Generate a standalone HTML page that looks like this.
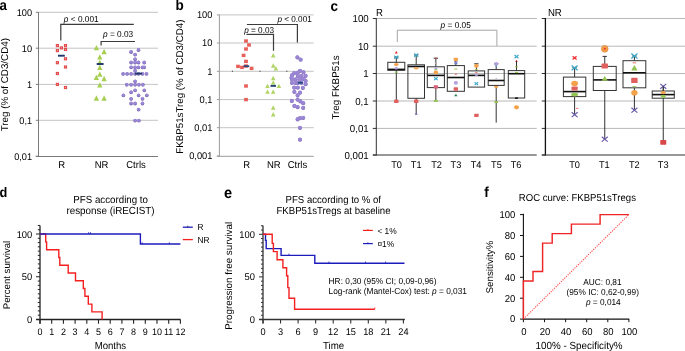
<!DOCTYPE html>
<html><head><meta charset="utf-8"><style>
html,body{margin:0;padding:0;background:#fff;width:685px;height:351px;overflow:hidden}
svg{display:block;filter:blur(0.4px);font-family:"Liberation Sans", sans-serif;text-rendering:geometricPrecision}
</style></head><body>
<svg xmlns="http://www.w3.org/2000/svg" width="685" height="351" viewBox="0 0 685 351">
<rect width="685" height="351" fill="#fff"/>
<text transform="translate(-0.60 10.40) scale(1 1.08)" font-size="13.3" text-anchor="start" font-weight="bold" fill="#000" >a</text>
<text transform="translate(175.50 10.30) scale(1 1.08)" font-size="13.5" text-anchor="start" font-weight="bold" fill="#000" >b</text>
<text transform="translate(330.60 10.50) scale(1 1.08)" font-size="13.5" text-anchor="start" font-weight="bold" fill="#000" >c</text>
<text transform="translate(-0.50 196.60) scale(1 1.08)" font-size="12.8" text-anchor="start" font-weight="bold" fill="#000" >d</text>
<text transform="translate(223.90 197.60) scale(1 1.08)" font-size="14.6" text-anchor="start" font-weight="bold" fill="#000" >e</text>
<text transform="translate(484.20 196.80) scale(1 1.08)" font-size="13.5" text-anchor="start" font-weight="bold" fill="#000" >f</text>
<line x1="39.00" y1="12.30" x2="158.00" y2="12.30" stroke="#c4c4c4" stroke-width="1" />
<line x1="35.80" y1="12.30" x2="38.50" y2="12.30" stroke="#7a7a7a" stroke-width="1" />
<line x1="39.00" y1="48.20" x2="158.00" y2="48.20" stroke="#c4c4c4" stroke-width="1" />
<line x1="35.80" y1="48.20" x2="38.50" y2="48.20" stroke="#7a7a7a" stroke-width="1" />
<line x1="39.00" y1="84.40" x2="158.00" y2="84.40" stroke="#c4c4c4" stroke-width="1" />
<line x1="35.80" y1="84.40" x2="38.50" y2="84.40" stroke="#7a7a7a" stroke-width="1" />
<line x1="39.00" y1="120.30" x2="158.00" y2="120.30" stroke="#c4c4c4" stroke-width="1" />
<line x1="35.80" y1="120.30" x2="38.50" y2="120.30" stroke="#7a7a7a" stroke-width="1" />
<line x1="35.80" y1="156.20" x2="38.50" y2="156.20" stroke="#7a7a7a" stroke-width="1" />
<line x1="38.50" y1="12.00" x2="38.50" y2="157.00" stroke="#7a7a7a" stroke-width="1" />
<line x1="35.80" y1="156.50" x2="158.00" y2="156.50" stroke="#7a7a7a" stroke-width="1" />
<text transform="translate(32.10 15.70) scale(1 1.05)" font-size="9.2" text-anchor="end" font-weight="normal" fill="#000" >100</text>
<text transform="translate(32.10 51.60) scale(1 1.05)" font-size="9.2" text-anchor="end" font-weight="normal" fill="#000" >10</text>
<text transform="translate(32.10 87.80) scale(1 1.05)" font-size="9.2" text-anchor="end" font-weight="normal" fill="#000" >1</text>
<text transform="translate(32.10 123.70) scale(1 1.05)" font-size="9.2" text-anchor="end" font-weight="normal" fill="#000" >0,1</text>
<text transform="translate(32.10 159.60) scale(1 1.05)" font-size="9.2" text-anchor="end" font-weight="normal" fill="#000" >0,01</text>
<text transform="translate(61.70 168.20) scale(1 1.05)" font-size="9.5" text-anchor="middle" font-weight="normal" fill="#000" >R</text>
<text transform="translate(101.50 168.20) scale(1 1.05)" font-size="9.5" text-anchor="middle" font-weight="normal" fill="#000" >NR</text>
<text transform="translate(136.00 168.20) scale(1 1.05)" font-size="9.5" text-anchor="middle" font-weight="normal" fill="#000" >Ctrls</text>
<text transform="translate(7.70 84.70) rotate(-90)" font-size="9.8" text-anchor="middle" font-weight="normal" fill="#000" >Treg (% of CD3/CD4)</text>
<line x1="60.80" y1="24.40" x2="133.80" y2="24.40" stroke="#3c3c3c" stroke-width="1.2" />
<line x1="60.80" y1="23.80" x2="60.80" y2="40.60" stroke="#3c3c3c" stroke-width="1.2" />
<text transform="translate(63.80 21.70) scale(1 1.05)" font-size="8.3" text-anchor="start" font-weight="normal" fill="#000" ><tspan font-style="italic">p</tspan> &lt; 0.001</text>
<line x1="101.10" y1="41.50" x2="135.00" y2="41.50" stroke="#3c3c3c" stroke-width="1.2" />
<line x1="101.10" y1="40.90" x2="101.10" y2="45.60" stroke="#3c3c3c" stroke-width="1.2" />
<text transform="translate(103.00 37.10) scale(1 1.05)" font-size="8.3" text-anchor="start" font-weight="normal" fill="#000" ><tspan font-style="italic">p</tspan> = 0.03</text>
<rect x="55.80" y="44.00" width="3.20" height="3.20" fill="#e24b4b" stroke="none" stroke-width="1" />
<rect x="56.90" y="45.10" width="1.00" height="1.00" fill="#f4a6a6" stroke="none" stroke-width="1" />
<rect x="59.80" y="46.30" width="3.20" height="3.20" fill="#e24b4b" stroke="none" stroke-width="1" />
<rect x="60.90" y="47.40" width="1.00" height="1.00" fill="#f4a6a6" stroke="none" stroke-width="1" />
<rect x="63.90" y="44.00" width="3.20" height="3.20" fill="#e24b4b" stroke="none" stroke-width="1" />
<rect x="65.00" y="45.10" width="1.00" height="1.00" fill="#f4a6a6" stroke="none" stroke-width="1" />
<rect x="55.80" y="49.00" width="3.20" height="3.20" fill="#e24b4b" stroke="none" stroke-width="1" />
<rect x="56.90" y="50.10" width="1.00" height="1.00" fill="#f4a6a6" stroke="none" stroke-width="1" />
<rect x="63.90" y="47.80" width="3.20" height="3.20" fill="#e24b4b" stroke="none" stroke-width="1" />
<rect x="65.00" y="48.90" width="1.00" height="1.00" fill="#f4a6a6" stroke="none" stroke-width="1" />
<rect x="63.90" y="57.20" width="3.20" height="3.20" fill="#e24b4b" stroke="none" stroke-width="1" />
<rect x="65.00" y="58.30" width="1.00" height="1.00" fill="#f4a6a6" stroke="none" stroke-width="1" />
<rect x="55.80" y="61.10" width="3.20" height="3.20" fill="#e24b4b" stroke="none" stroke-width="1" />
<rect x="56.90" y="62.20" width="1.00" height="1.00" fill="#f4a6a6" stroke="none" stroke-width="1" />
<rect x="63.90" y="65.40" width="3.20" height="3.20" fill="#e24b4b" stroke="none" stroke-width="1" />
<rect x="65.00" y="66.50" width="1.00" height="1.00" fill="#f4a6a6" stroke="none" stroke-width="1" />
<rect x="55.80" y="71.90" width="3.20" height="3.20" fill="#e24b4b" stroke="none" stroke-width="1" />
<rect x="56.90" y="73.00" width="1.00" height="1.00" fill="#f4a6a6" stroke="none" stroke-width="1" />
<rect x="55.80" y="82.80" width="3.20" height="3.20" fill="#e24b4b" stroke="none" stroke-width="1" />
<rect x="56.90" y="83.90" width="1.00" height="1.00" fill="#f4a6a6" stroke="none" stroke-width="1" />
<rect x="63.90" y="85.90" width="3.20" height="3.20" fill="#e24b4b" stroke="none" stroke-width="1" />
<rect x="65.00" y="87.00" width="1.00" height="1.00" fill="#f4a6a6" stroke="none" stroke-width="1" />
<polygon points="93.75,50.35 99.05,50.35 96.40,45.05" fill="#a6cf52" />
<polygon points="101.45,54.15 106.75,54.15 104.10,48.85" fill="#a6cf52" />
<polygon points="97.15,59.45 102.45,59.45 99.80,54.15" fill="#a6cf52" />
<polygon points="97.15,64.85 102.45,64.85 99.80,59.55" fill="#a6cf52" />
<polygon points="97.15,70.05 102.45,70.05 99.80,64.75" fill="#a6cf52" />
<polygon points="97.15,76.85 102.45,76.85 99.80,71.55" fill="#a6cf52" />
<polygon points="93.75,79.95 99.05,79.95 96.40,74.65" fill="#a6cf52" />
<polygon points="101.45,81.15 106.75,81.15 104.10,75.85" fill="#a6cf52" />
<polygon points="97.15,87.45 102.45,87.45 99.80,82.15" fill="#a6cf52" />
<polygon points="93.75,100.65 99.05,100.65 96.40,95.35" fill="#a6cf52" />
<polygon points="101.45,100.65 106.75,100.65 104.10,95.35" fill="#a6cf52" />
<circle cx="131.10" cy="52.15" r="1.80" fill="#6f5da6" stroke="none" stroke-width="0.5" />
<circle cx="138.50" cy="50.15" r="1.80" fill="#6f5da6" stroke="none" stroke-width="0.5" />
<circle cx="135.10" cy="54.75" r="1.80" fill="#6f5da6" stroke="none" stroke-width="0.5" />
<circle cx="135.10" cy="59.45" r="1.80" fill="#6f5da6" stroke="none" stroke-width="0.5" />
<circle cx="131.10" cy="62.65" r="1.80" fill="#6f5da6" stroke="none" stroke-width="0.5" />
<circle cx="135.10" cy="62.65" r="1.80" fill="#6f5da6" stroke="none" stroke-width="0.5" />
<circle cx="138.50" cy="62.65" r="1.80" fill="#6f5da6" stroke="none" stroke-width="0.5" />
<circle cx="144.20" cy="62.65" r="1.80" fill="#6f5da6" stroke="none" stroke-width="0.5" />
<circle cx="131.10" cy="67.55" r="1.80" fill="#6f5da6" stroke="none" stroke-width="0.5" />
<circle cx="135.10" cy="67.55" r="1.80" fill="#6f5da6" stroke="none" stroke-width="0.5" />
<circle cx="138.50" cy="67.55" r="1.80" fill="#6f5da6" stroke="none" stroke-width="0.5" />
<circle cx="142.50" cy="67.55" r="1.80" fill="#6f5da6" stroke="none" stroke-width="0.5" />
<circle cx="144.20" cy="67.55" r="1.80" fill="#6f5da6" stroke="none" stroke-width="0.5" />
<circle cx="135.10" cy="70.85" r="1.80" fill="#6f5da6" stroke="none" stroke-width="0.5" />
<circle cx="123.10" cy="74.05" r="1.80" fill="#6f5da6" stroke="none" stroke-width="0.5" />
<circle cx="127.10" cy="74.05" r="1.80" fill="#6f5da6" stroke="none" stroke-width="0.5" />
<circle cx="131.10" cy="74.05" r="1.80" fill="#6f5da6" stroke="none" stroke-width="0.5" />
<circle cx="135.10" cy="74.05" r="1.80" fill="#6f5da6" stroke="none" stroke-width="0.5" />
<circle cx="138.50" cy="74.05" r="1.80" fill="#6f5da6" stroke="none" stroke-width="0.5" />
<circle cx="142.50" cy="74.05" r="1.80" fill="#6f5da6" stroke="none" stroke-width="0.5" />
<circle cx="146.50" cy="74.05" r="1.80" fill="#6f5da6" stroke="none" stroke-width="0.5" />
<circle cx="135.10" cy="81.55" r="1.80" fill="#6f5da6" stroke="none" stroke-width="0.5" />
<circle cx="126.80" cy="84.85" r="1.80" fill="#6f5da6" stroke="none" stroke-width="0.5" />
<circle cx="131.10" cy="84.85" r="1.80" fill="#6f5da6" stroke="none" stroke-width="0.5" />
<circle cx="135.10" cy="84.85" r="1.80" fill="#6f5da6" stroke="none" stroke-width="0.5" />
<circle cx="138.90" cy="84.85" r="1.80" fill="#6f5da6" stroke="none" stroke-width="0.5" />
<circle cx="142.90" cy="84.85" r="1.80" fill="#6f5da6" stroke="none" stroke-width="0.5" />
<circle cx="135.10" cy="90.55" r="1.80" fill="#6f5da6" stroke="none" stroke-width="0.5" />
<circle cx="131.10" cy="92.45" r="1.80" fill="#6f5da6" stroke="none" stroke-width="0.5" />
<circle cx="144.30" cy="90.55" r="1.80" fill="#6f5da6" stroke="none" stroke-width="0.5" />
<circle cx="123.40" cy="95.55" r="1.80" fill="#6f5da6" stroke="none" stroke-width="0.5" />
<circle cx="138.60" cy="95.55" r="1.80" fill="#6f5da6" stroke="none" stroke-width="0.5" />
<circle cx="146.80" cy="95.55" r="1.80" fill="#6f5da6" stroke="none" stroke-width="0.5" />
<circle cx="131.10" cy="99.05" r="1.80" fill="#6f5da6" stroke="none" stroke-width="0.5" />
<circle cx="142.50" cy="99.05" r="1.80" fill="#6f5da6" stroke="none" stroke-width="0.5" />
<circle cx="131.10" cy="103.65" r="1.80" fill="#6f5da6" stroke="none" stroke-width="0.5" />
<circle cx="135.10" cy="103.65" r="1.80" fill="#6f5da6" stroke="none" stroke-width="0.5" />
<circle cx="142.50" cy="103.65" r="1.80" fill="#6f5da6" stroke="none" stroke-width="0.5" />
<circle cx="138.60" cy="109.75" r="1.80" fill="#6f5da6" stroke="none" stroke-width="0.5" />
<circle cx="135.10" cy="120.75" r="1.80" fill="#6f5da6" stroke="none" stroke-width="0.5" />
<circle cx="138.90" cy="120.75" r="1.80" fill="#6f5da6" stroke="none" stroke-width="0.5" />
<circle cx="131.10" cy="51.70" r="1.65" fill="#9a86d4" stroke="none" stroke-width="0.5" />
<circle cx="138.50" cy="49.70" r="1.65" fill="#9a86d4" stroke="none" stroke-width="0.5" />
<circle cx="135.10" cy="54.30" r="1.65" fill="#9a86d4" stroke="none" stroke-width="0.5" />
<circle cx="135.10" cy="59.00" r="1.65" fill="#9a86d4" stroke="none" stroke-width="0.5" />
<circle cx="131.10" cy="62.20" r="1.65" fill="#9a86d4" stroke="none" stroke-width="0.5" />
<circle cx="135.10" cy="62.20" r="1.65" fill="#9a86d4" stroke="none" stroke-width="0.5" />
<circle cx="138.50" cy="62.20" r="1.65" fill="#9a86d4" stroke="none" stroke-width="0.5" />
<circle cx="144.20" cy="62.20" r="1.65" fill="#9a86d4" stroke="none" stroke-width="0.5" />
<circle cx="131.10" cy="67.10" r="1.65" fill="#9a86d4" stroke="none" stroke-width="0.5" />
<circle cx="135.10" cy="67.10" r="1.65" fill="#9a86d4" stroke="none" stroke-width="0.5" />
<circle cx="138.50" cy="67.10" r="1.65" fill="#9a86d4" stroke="none" stroke-width="0.5" />
<circle cx="142.50" cy="67.10" r="1.65" fill="#9a86d4" stroke="none" stroke-width="0.5" />
<circle cx="144.20" cy="67.10" r="1.65" fill="#9a86d4" stroke="none" stroke-width="0.5" />
<circle cx="135.10" cy="70.40" r="1.65" fill="#9a86d4" stroke="none" stroke-width="0.5" />
<circle cx="123.10" cy="73.60" r="1.65" fill="#9a86d4" stroke="none" stroke-width="0.5" />
<circle cx="127.10" cy="73.60" r="1.65" fill="#9a86d4" stroke="none" stroke-width="0.5" />
<circle cx="131.10" cy="73.60" r="1.65" fill="#9a86d4" stroke="none" stroke-width="0.5" />
<circle cx="135.10" cy="73.60" r="1.65" fill="#9a86d4" stroke="none" stroke-width="0.5" />
<circle cx="138.50" cy="73.60" r="1.65" fill="#9a86d4" stroke="none" stroke-width="0.5" />
<circle cx="142.50" cy="73.60" r="1.65" fill="#9a86d4" stroke="none" stroke-width="0.5" />
<circle cx="146.50" cy="73.60" r="1.65" fill="#9a86d4" stroke="none" stroke-width="0.5" />
<circle cx="135.10" cy="81.10" r="1.65" fill="#9a86d4" stroke="none" stroke-width="0.5" />
<circle cx="126.80" cy="84.40" r="1.65" fill="#9a86d4" stroke="none" stroke-width="0.5" />
<circle cx="131.10" cy="84.40" r="1.65" fill="#9a86d4" stroke="none" stroke-width="0.5" />
<circle cx="135.10" cy="84.40" r="1.65" fill="#9a86d4" stroke="none" stroke-width="0.5" />
<circle cx="138.90" cy="84.40" r="1.65" fill="#9a86d4" stroke="none" stroke-width="0.5" />
<circle cx="142.90" cy="84.40" r="1.65" fill="#9a86d4" stroke="none" stroke-width="0.5" />
<circle cx="135.10" cy="90.10" r="1.65" fill="#9a86d4" stroke="none" stroke-width="0.5" />
<circle cx="131.10" cy="92.00" r="1.65" fill="#9a86d4" stroke="none" stroke-width="0.5" />
<circle cx="144.30" cy="90.10" r="1.65" fill="#9a86d4" stroke="none" stroke-width="0.5" />
<circle cx="123.40" cy="95.10" r="1.65" fill="#9a86d4" stroke="none" stroke-width="0.5" />
<circle cx="138.60" cy="95.10" r="1.65" fill="#9a86d4" stroke="none" stroke-width="0.5" />
<circle cx="146.80" cy="95.10" r="1.65" fill="#9a86d4" stroke="none" stroke-width="0.5" />
<circle cx="131.10" cy="98.60" r="1.65" fill="#9a86d4" stroke="none" stroke-width="0.5" />
<circle cx="142.50" cy="98.60" r="1.65" fill="#9a86d4" stroke="none" stroke-width="0.5" />
<circle cx="131.10" cy="103.20" r="1.65" fill="#9a86d4" stroke="none" stroke-width="0.5" />
<circle cx="135.10" cy="103.20" r="1.65" fill="#9a86d4" stroke="none" stroke-width="0.5" />
<circle cx="142.50" cy="103.20" r="1.65" fill="#9a86d4" stroke="none" stroke-width="0.5" />
<circle cx="138.60" cy="109.30" r="1.65" fill="#9a86d4" stroke="none" stroke-width="0.5" />
<circle cx="135.10" cy="120.30" r="1.65" fill="#9a86d4" stroke="none" stroke-width="0.5" />
<circle cx="138.90" cy="120.30" r="1.65" fill="#9a86d4" stroke="none" stroke-width="0.5" />
<line x1="58.00" y1="55.70" x2="64.80" y2="55.70" stroke="#1c3768" stroke-width="1.9" />
<line x1="96.70" y1="64.00" x2="103.60" y2="64.00" stroke="#1c3768" stroke-width="1.9" />
<line x1="135.00" y1="73.60" x2="142.00" y2="73.60" stroke="#1c3768" stroke-width="1.9" />
<line x1="220.00" y1="14.90" x2="313.70" y2="14.90" stroke="#c4c4c4" stroke-width="1" />
<line x1="216.90" y1="14.90" x2="219.40" y2="14.90" stroke="#9c9c9c" stroke-width="1" />
<line x1="220.00" y1="43.00" x2="313.70" y2="43.00" stroke="#c4c4c4" stroke-width="1" />
<line x1="216.90" y1="43.00" x2="219.40" y2="43.00" stroke="#9c9c9c" stroke-width="1" />
<line x1="220.00" y1="71.30" x2="313.70" y2="71.30" stroke="#c4c4c4" stroke-width="1" />
<line x1="216.90" y1="71.30" x2="219.40" y2="71.30" stroke="#9c9c9c" stroke-width="1" />
<line x1="220.00" y1="99.60" x2="313.70" y2="99.60" stroke="#c4c4c4" stroke-width="1" />
<line x1="216.90" y1="99.60" x2="219.40" y2="99.60" stroke="#9c9c9c" stroke-width="1" />
<line x1="220.00" y1="127.70" x2="313.70" y2="127.70" stroke="#c4c4c4" stroke-width="1" />
<line x1="216.90" y1="127.70" x2="219.40" y2="127.70" stroke="#9c9c9c" stroke-width="1" />
<line x1="216.90" y1="156.00" x2="219.40" y2="156.00" stroke="#9c9c9c" stroke-width="1" />
<line x1="219.40" y1="14.50" x2="219.40" y2="156.80" stroke="#9c9c9c" stroke-width="1" />
<line x1="216.90" y1="156.30" x2="313.70" y2="156.30" stroke="#9c9c9c" stroke-width="1" />
<text transform="translate(212.40 18.10) scale(1 1.05)" font-size="9.3" text-anchor="end" font-weight="normal" fill="#000" >100</text>
<text transform="translate(212.40 46.20) scale(1 1.05)" font-size="9.3" text-anchor="end" font-weight="normal" fill="#000" >10</text>
<text transform="translate(212.40 74.50) scale(1 1.05)" font-size="9.3" text-anchor="end" font-weight="normal" fill="#000" >1</text>
<text transform="translate(212.40 102.80) scale(1 1.05)" font-size="9.3" text-anchor="end" font-weight="normal" fill="#000" >0,1</text>
<text transform="translate(212.40 130.90) scale(1 1.05)" font-size="9.3" text-anchor="end" font-weight="normal" fill="#000" >0,01</text>
<text transform="translate(212.40 159.20) scale(1 1.05)" font-size="9.3" text-anchor="end" font-weight="normal" fill="#000" >0,001</text>
<text transform="translate(246.60 168.20) scale(1 1.05)" font-size="9.5" text-anchor="middle" font-weight="normal" fill="#000" >R</text>
<text transform="translate(273.80 168.20) scale(1 1.05)" font-size="9.5" text-anchor="middle" font-weight="normal" fill="#000" >NR</text>
<text transform="translate(297.40 168.20) scale(1 1.05)" font-size="9.5" text-anchor="middle" font-weight="normal" fill="#000" >Ctrls</text>
<text transform="translate(182.90 86.70) rotate(-90)" font-size="9.77" text-anchor="middle" font-weight="normal" fill="#000" >FKBP51sTreg (% of CD3/CD4)</text>
<line x1="232.40" y1="70.60" x2="232.40" y2="72.00" stroke="#3a3a3a" stroke-width="0.8" />
<line x1="260.00" y1="70.60" x2="260.00" y2="72.00" stroke="#3a3a3a" stroke-width="0.8" />
<line x1="286.80" y1="70.60" x2="286.80" y2="72.00" stroke="#3a3a3a" stroke-width="0.8" />
<line x1="246.90" y1="24.50" x2="297.40" y2="24.50" stroke="#3c3c3c" stroke-width="1.2" />
<line x1="297.40" y1="23.90" x2="297.40" y2="42.60" stroke="#3c3c3c" stroke-width="1.2" />
<text transform="translate(277.40 21.60) scale(1 1.05)" font-size="8.2" text-anchor="start" font-weight="normal" fill="#000" ><tspan font-style="italic">p</tspan> &lt; 0.001</text>
<line x1="246.40" y1="34.40" x2="273.50" y2="34.40" stroke="#3c3c3c" stroke-width="1.2" />
<line x1="273.50" y1="33.80" x2="273.50" y2="50.80" stroke="#3c3c3c" stroke-width="1.2" />
<text transform="translate(244.20 32.60) scale(1 1.05)" font-size="8.2" text-anchor="start" font-weight="normal" fill="#000" ><tspan font-style="italic">p</tspan> = 0.03</text>
<rect x="244.10" y="39.30" width="3.80" height="3.40" fill="#e8605a" stroke="none" stroke-width="1" />
<rect x="247.10" y="43.30" width="3.80" height="3.40" fill="#e8605a" stroke="none" stroke-width="1" />
<rect x="244.10" y="47.30" width="3.80" height="3.40" fill="#e8605a" stroke="none" stroke-width="1" />
<rect x="241.70" y="53.70" width="3.80" height="3.40" fill="#e8605a" stroke="none" stroke-width="1" />
<rect x="244.10" y="59.70" width="3.80" height="3.40" fill="#e8605a" stroke="none" stroke-width="1" />
<rect x="236.10" y="64.70" width="3.80" height="3.40" fill="#e8605a" stroke="none" stroke-width="1" />
<rect x="240.10" y="65.70" width="3.80" height="3.40" fill="#e8605a" stroke="none" stroke-width="1" />
<rect x="244.10" y="64.30" width="3.80" height="3.40" fill="#e8605a" stroke="none" stroke-width="1" />
<rect x="249.70" y="66.70" width="3.80" height="3.40" fill="#e8605a" stroke="none" stroke-width="1" />
<rect x="244.10" y="84.30" width="3.80" height="3.40" fill="#e8605a" stroke="none" stroke-width="1" />
<rect x="244.10" y="97.90" width="3.80" height="3.40" fill="#e8605a" stroke="none" stroke-width="1" />
<line x1="243.50" y1="66.20" x2="249.20" y2="66.20" stroke="#28467e" stroke-width="1.9" />
<polygon points="270.90,57.40 275.50,57.40 273.20,53.00" fill="#b0d466" />
<polygon points="270.90,67.70 275.50,67.70 273.20,63.30" fill="#b0d466" />
<polygon points="273.60,70.40 278.20,70.40 275.90,66.00" fill="#b0d466" />
<polygon points="270.90,80.20 275.50,80.20 273.20,75.80" fill="#b0d466" />
<polygon points="270.90,84.70 275.50,84.70 273.20,80.30" fill="#b0d466" />
<polygon points="265.20,88.10 269.80,88.10 267.50,83.70" fill="#b0d466" />
<polygon points="276.60,88.10 281.20,88.10 278.90,83.70" fill="#b0d466" />
<polygon points="265.20,93.80 269.80,93.80 267.50,89.40" fill="#b0d466" />
<polygon points="270.90,93.80 275.50,93.80 273.20,89.40" fill="#b0d466" />
<polygon points="270.90,109.70 275.50,109.70 273.20,105.30" fill="#b0d466" />
<polygon points="270.90,116.50 275.50,116.50 273.20,112.10" fill="#b0d466" />
<line x1="270.50" y1="85.90" x2="276.00" y2="85.90" stroke="#28467e" stroke-width="1.9" />
<circle cx="297.40" cy="57.50" r="2.00" fill="#7a68b0" stroke="none" stroke-width="0.5" />
<circle cx="300.60" cy="59.70" r="2.00" fill="#7a68b0" stroke="none" stroke-width="0.5" />
<circle cx="294.20" cy="73.20" r="2.00" fill="#7a68b0" stroke="none" stroke-width="0.5" />
<circle cx="300.00" cy="71.00" r="2.00" fill="#7a68b0" stroke="none" stroke-width="0.5" />
<circle cx="303.50" cy="72.40" r="2.00" fill="#7a68b0" stroke="none" stroke-width="0.5" />
<circle cx="292.00" cy="75.40" r="2.00" fill="#7a68b0" stroke="none" stroke-width="0.5" />
<circle cx="297.80" cy="76.00" r="2.00" fill="#7a68b0" stroke="none" stroke-width="0.5" />
<circle cx="301.40" cy="76.00" r="2.00" fill="#7a68b0" stroke="none" stroke-width="0.5" />
<circle cx="305.60" cy="76.00" r="2.00" fill="#7a68b0" stroke="none" stroke-width="0.5" />
<circle cx="292.00" cy="79.60" r="2.00" fill="#7a68b0" stroke="none" stroke-width="0.5" />
<circle cx="295.70" cy="79.60" r="2.00" fill="#7a68b0" stroke="none" stroke-width="0.5" />
<circle cx="300.00" cy="79.60" r="2.00" fill="#7a68b0" stroke="none" stroke-width="0.5" />
<circle cx="303.50" cy="78.90" r="2.00" fill="#7a68b0" stroke="none" stroke-width="0.5" />
<circle cx="292.00" cy="83.10" r="2.00" fill="#7a68b0" stroke="none" stroke-width="0.5" />
<circle cx="295.70" cy="83.10" r="2.00" fill="#7a68b0" stroke="none" stroke-width="0.5" />
<circle cx="305.60" cy="81.00" r="2.00" fill="#7a68b0" stroke="none" stroke-width="0.5" />
<circle cx="305.60" cy="84.30" r="2.00" fill="#7a68b0" stroke="none" stroke-width="0.5" />
<circle cx="297.80" cy="83.10" r="2.00" fill="#7a68b0" stroke="none" stroke-width="0.5" />
<circle cx="301.40" cy="83.10" r="2.00" fill="#7a68b0" stroke="none" stroke-width="0.5" />
<circle cx="294.20" cy="87.70" r="2.00" fill="#7a68b0" stroke="none" stroke-width="0.5" />
<circle cx="297.80" cy="87.70" r="2.00" fill="#7a68b0" stroke="none" stroke-width="0.5" />
<circle cx="302.80" cy="88.10" r="2.00" fill="#7a68b0" stroke="none" stroke-width="0.5" />
<circle cx="294.40" cy="92.00" r="2.00" fill="#7a68b0" stroke="none" stroke-width="0.5" />
<circle cx="300.00" cy="92.80" r="2.00" fill="#7a68b0" stroke="none" stroke-width="0.5" />
<circle cx="297.60" cy="95.40" r="2.00" fill="#7a68b0" stroke="none" stroke-width="0.5" />
<circle cx="291.80" cy="101.10" r="2.00" fill="#7a68b0" stroke="none" stroke-width="0.5" />
<circle cx="297.60" cy="99.80" r="2.00" fill="#7a68b0" stroke="none" stroke-width="0.5" />
<circle cx="300.40" cy="101.40" r="2.00" fill="#7a68b0" stroke="none" stroke-width="0.5" />
<circle cx="303.20" cy="103.30" r="2.00" fill="#7a68b0" stroke="none" stroke-width="0.5" />
<circle cx="294.40" cy="106.10" r="2.00" fill="#7a68b0" stroke="none" stroke-width="0.5" />
<circle cx="297.60" cy="107.20" r="2.00" fill="#7a68b0" stroke="none" stroke-width="0.5" />
<circle cx="303.20" cy="108.00" r="2.00" fill="#7a68b0" stroke="none" stroke-width="0.5" />
<circle cx="297.60" cy="119.40" r="2.00" fill="#7a68b0" stroke="none" stroke-width="0.5" />
<circle cx="300.00" cy="118.30" r="2.00" fill="#7a68b0" stroke="none" stroke-width="0.5" />
<circle cx="303.20" cy="118.00" r="2.00" fill="#7a68b0" stroke="none" stroke-width="0.5" />
<circle cx="300.00" cy="128.00" r="2.00" fill="#7a68b0" stroke="none" stroke-width="0.5" />
<circle cx="300.00" cy="139.80" r="2.00" fill="#7a68b0" stroke="none" stroke-width="0.5" />
<circle cx="297.80" cy="72.90" r="2.00" fill="#7a68b0" stroke="none" stroke-width="0.5" />
<circle cx="291.50" cy="77.90" r="2.00" fill="#7a68b0" stroke="none" stroke-width="0.5" />
<circle cx="297.40" cy="57.10" r="1.90" fill="#9a86d4" stroke="none" stroke-width="0.5" />
<circle cx="300.60" cy="59.30" r="1.90" fill="#9a86d4" stroke="none" stroke-width="0.5" />
<circle cx="294.20" cy="72.80" r="1.90" fill="#9a86d4" stroke="none" stroke-width="0.5" />
<circle cx="300.00" cy="70.60" r="1.90" fill="#9a86d4" stroke="none" stroke-width="0.5" />
<circle cx="303.50" cy="72.00" r="1.90" fill="#9a86d4" stroke="none" stroke-width="0.5" />
<circle cx="292.00" cy="75.00" r="1.90" fill="#9a86d4" stroke="none" stroke-width="0.5" />
<circle cx="297.80" cy="75.60" r="1.90" fill="#9a86d4" stroke="none" stroke-width="0.5" />
<circle cx="301.40" cy="75.60" r="1.90" fill="#9a86d4" stroke="none" stroke-width="0.5" />
<circle cx="305.60" cy="75.60" r="1.90" fill="#9a86d4" stroke="none" stroke-width="0.5" />
<circle cx="292.00" cy="79.20" r="1.90" fill="#9a86d4" stroke="none" stroke-width="0.5" />
<circle cx="295.70" cy="79.20" r="1.90" fill="#9a86d4" stroke="none" stroke-width="0.5" />
<circle cx="300.00" cy="79.20" r="1.90" fill="#9a86d4" stroke="none" stroke-width="0.5" />
<circle cx="303.50" cy="78.50" r="1.90" fill="#9a86d4" stroke="none" stroke-width="0.5" />
<circle cx="292.00" cy="82.70" r="1.90" fill="#9a86d4" stroke="none" stroke-width="0.5" />
<circle cx="295.70" cy="82.70" r="1.90" fill="#9a86d4" stroke="none" stroke-width="0.5" />
<circle cx="305.60" cy="80.60" r="1.90" fill="#9a86d4" stroke="none" stroke-width="0.5" />
<circle cx="305.60" cy="83.90" r="1.90" fill="#9a86d4" stroke="none" stroke-width="0.5" />
<circle cx="297.80" cy="82.70" r="1.90" fill="#9a86d4" stroke="none" stroke-width="0.5" />
<circle cx="301.40" cy="82.70" r="1.90" fill="#9a86d4" stroke="none" stroke-width="0.5" />
<circle cx="294.20" cy="87.30" r="1.90" fill="#9a86d4" stroke="none" stroke-width="0.5" />
<circle cx="297.80" cy="87.30" r="1.90" fill="#9a86d4" stroke="none" stroke-width="0.5" />
<circle cx="302.80" cy="87.70" r="1.90" fill="#9a86d4" stroke="none" stroke-width="0.5" />
<circle cx="294.40" cy="91.60" r="1.90" fill="#9a86d4" stroke="none" stroke-width="0.5" />
<circle cx="300.00" cy="92.40" r="1.90" fill="#9a86d4" stroke="none" stroke-width="0.5" />
<circle cx="297.60" cy="95.00" r="1.90" fill="#9a86d4" stroke="none" stroke-width="0.5" />
<circle cx="291.80" cy="100.70" r="1.90" fill="#9a86d4" stroke="none" stroke-width="0.5" />
<circle cx="297.60" cy="99.40" r="1.90" fill="#9a86d4" stroke="none" stroke-width="0.5" />
<circle cx="300.40" cy="101.00" r="1.90" fill="#9a86d4" stroke="none" stroke-width="0.5" />
<circle cx="303.20" cy="102.90" r="1.90" fill="#9a86d4" stroke="none" stroke-width="0.5" />
<circle cx="294.40" cy="105.70" r="1.90" fill="#9a86d4" stroke="none" stroke-width="0.5" />
<circle cx="297.60" cy="106.80" r="1.90" fill="#9a86d4" stroke="none" stroke-width="0.5" />
<circle cx="303.20" cy="107.60" r="1.90" fill="#9a86d4" stroke="none" stroke-width="0.5" />
<circle cx="297.60" cy="119.00" r="1.90" fill="#9a86d4" stroke="none" stroke-width="0.5" />
<circle cx="300.00" cy="117.90" r="1.90" fill="#9a86d4" stroke="none" stroke-width="0.5" />
<circle cx="303.20" cy="117.60" r="1.90" fill="#9a86d4" stroke="none" stroke-width="0.5" />
<circle cx="300.00" cy="127.60" r="1.90" fill="#9a86d4" stroke="none" stroke-width="0.5" />
<circle cx="300.00" cy="139.40" r="1.90" fill="#9a86d4" stroke="none" stroke-width="0.5" />
<circle cx="297.80" cy="72.50" r="1.90" fill="#9a86d4" stroke="none" stroke-width="0.5" />
<circle cx="291.50" cy="77.50" r="1.90" fill="#9a86d4" stroke="none" stroke-width="0.5" />
<line x1="297.80" y1="82.70" x2="302.80" y2="82.70" stroke="#28467e" stroke-width="1.9" />
<line x1="376.30" y1="18.50" x2="536.70" y2="18.50" stroke="#b8b8b8" stroke-width="1" />
<line x1="545.60" y1="18.50" x2="685.00" y2="18.50" stroke="#b8b8b8" stroke-width="1" />
<line x1="372.80" y1="18.50" x2="376.30" y2="18.50" stroke="#303030" stroke-width="1" />
<line x1="541.80" y1="18.50" x2="545.60" y2="18.50" stroke="#303030" stroke-width="1" />
<line x1="376.30" y1="46.20" x2="536.70" y2="46.20" stroke="#b8b8b8" stroke-width="1" />
<line x1="545.60" y1="46.20" x2="685.00" y2="46.20" stroke="#b8b8b8" stroke-width="1" />
<line x1="372.80" y1="46.20" x2="376.30" y2="46.20" stroke="#303030" stroke-width="1" />
<line x1="541.80" y1="46.20" x2="545.60" y2="46.20" stroke="#303030" stroke-width="1" />
<line x1="376.30" y1="73.50" x2="536.70" y2="73.50" stroke="#b8b8b8" stroke-width="1" />
<line x1="545.60" y1="73.50" x2="685.00" y2="73.50" stroke="#b8b8b8" stroke-width="1" />
<line x1="372.80" y1="73.50" x2="376.30" y2="73.50" stroke="#303030" stroke-width="1" />
<line x1="541.80" y1="73.50" x2="545.60" y2="73.50" stroke="#303030" stroke-width="1" />
<line x1="376.30" y1="101.00" x2="536.70" y2="101.00" stroke="#b8b8b8" stroke-width="1" />
<line x1="545.60" y1="101.00" x2="685.00" y2="101.00" stroke="#b8b8b8" stroke-width="1" />
<line x1="372.80" y1="101.00" x2="376.30" y2="101.00" stroke="#303030" stroke-width="1" />
<line x1="541.80" y1="101.00" x2="545.60" y2="101.00" stroke="#303030" stroke-width="1" />
<line x1="376.30" y1="128.40" x2="536.70" y2="128.40" stroke="#b8b8b8" stroke-width="1" />
<line x1="545.60" y1="128.40" x2="685.00" y2="128.40" stroke="#b8b8b8" stroke-width="1" />
<line x1="372.80" y1="128.40" x2="376.30" y2="128.40" stroke="#303030" stroke-width="1" />
<line x1="541.80" y1="128.40" x2="545.60" y2="128.40" stroke="#303030" stroke-width="1" />
<line x1="372.80" y1="155.00" x2="376.30" y2="155.00" stroke="#303030" stroke-width="1" />
<line x1="541.80" y1="155.00" x2="545.60" y2="155.00" stroke="#303030" stroke-width="1" />
<line x1="376.30" y1="18.00" x2="376.30" y2="155.50" stroke="#303030" stroke-width="1" />
<line x1="545.40" y1="18.00" x2="545.40" y2="155.50" stroke="#111" stroke-width="1.3" />
<line x1="372.80" y1="155.00" x2="536.70" y2="155.00" stroke="#303030" stroke-width="1" />
<line x1="541.80" y1="155.00" x2="685.00" y2="155.00" stroke="#303030" stroke-width="1" />
<text transform="translate(368.70 22.10) scale(1 1.05)" font-size="9.7" text-anchor="end" font-weight="normal" fill="#000" >100</text>
<text transform="translate(368.70 49.80) scale(1 1.05)" font-size="9.7" text-anchor="end" font-weight="normal" fill="#000" >10</text>
<text transform="translate(368.70 77.10) scale(1 1.05)" font-size="9.7" text-anchor="end" font-weight="normal" fill="#000" >1</text>
<text transform="translate(368.70 104.60) scale(1 1.05)" font-size="9.7" text-anchor="end" font-weight="normal" fill="#000" >0,1</text>
<text transform="translate(368.70 132.00) scale(1 1.05)" font-size="9.7" text-anchor="end" font-weight="normal" fill="#000" >0,01</text>
<text transform="translate(368.70 158.60) scale(1 1.05)" font-size="9.7" text-anchor="end" font-weight="normal" fill="#000" >0,001</text>
<text transform="translate(376.00 15.60) scale(1 1.05)" font-size="9.6" text-anchor="start" font-weight="normal" fill="#000" >R</text>
<text transform="translate(547.90 15.70) scale(1 1.05)" font-size="9.6" text-anchor="start" font-weight="normal" fill="#000" >NR</text>
<text transform="translate(338.80 87.50) rotate(-90)" font-size="9.85" text-anchor="middle" font-weight="normal" fill="#000" >Treg FKBP51s</text>
<text transform="translate(396.50 168.20) scale(1 1.05)" font-size="9.2" text-anchor="middle" font-weight="normal" fill="#000" >T0</text>
<text transform="translate(416.20 168.20) scale(1 1.05)" font-size="9.2" text-anchor="middle" font-weight="normal" fill="#000" >T1</text>
<text transform="translate(436.50 168.20) scale(1 1.05)" font-size="9.2" text-anchor="middle" font-weight="normal" fill="#000" >T2</text>
<text transform="translate(455.90 168.20) scale(1 1.05)" font-size="9.2" text-anchor="middle" font-weight="normal" fill="#000" >T3</text>
<text transform="translate(476.10 168.20) scale(1 1.05)" font-size="9.2" text-anchor="middle" font-weight="normal" fill="#000" >T4</text>
<text transform="translate(496.40 168.20) scale(1 1.05)" font-size="9.2" text-anchor="middle" font-weight="normal" fill="#000" >T5</text>
<text transform="translate(516.10 168.20) scale(1 1.05)" font-size="9.2" text-anchor="middle" font-weight="normal" fill="#000" >T6</text>
<text transform="translate(574.60 168.20) scale(1 1.05)" font-size="9.2" text-anchor="middle" font-weight="normal" fill="#000" >T0</text>
<text transform="translate(604.30 168.20) scale(1 1.05)" font-size="9.2" text-anchor="middle" font-weight="normal" fill="#000" >T1</text>
<text transform="translate(634.30 168.20) scale(1 1.05)" font-size="9.2" text-anchor="middle" font-weight="normal" fill="#000" >T2</text>
<text transform="translate(663.20 168.20) scale(1 1.05)" font-size="9.2" text-anchor="middle" font-weight="normal" fill="#000" >T3</text>
<line x1="397.30" y1="30.20" x2="496.90" y2="30.20" stroke="#9a9a9a" stroke-width="0.9" />
<line x1="397.30" y1="30.20" x2="397.30" y2="42.00" stroke="#9a9a9a" stroke-width="0.9" />
<line x1="496.90" y1="30.20" x2="496.90" y2="46.00" stroke="#9a9a9a" stroke-width="0.9" />
<text transform="translate(440.60 27.60) scale(1 1.05)" font-size="8.3" text-anchor="start" font-weight="normal" fill="#000" ><tspan font-style="italic">p</tspan> = 0.05</text>
<line x1="396.30" y1="57.10" x2="396.30" y2="62.30" stroke="#333" stroke-width="1" />
<line x1="396.30" y1="70.30" x2="396.30" y2="101.30" stroke="#333" stroke-width="1" />
<line x1="394.10" y1="57.10" x2="398.50" y2="57.10" stroke="#333" stroke-width="1" />
<rect x="387.80" y="62.30" width="17.00" height="8.00" fill="none" stroke="#333" stroke-width="1.0" />
<line x1="387.80" y1="69.40" x2="404.80" y2="69.40" stroke="#111" stroke-width="1.6" />
<polygon points="394.80,53.40 397.80,53.40 396.30,51.00" fill="#ee2020" />
<line x1="394.30" y1="55.70" x2="398.30" y2="58.90" stroke="#3aa8c8" stroke-width="1.1" />
<line x1="394.30" y1="58.90" x2="398.30" y2="55.70" stroke="#3aa8c8" stroke-width="1.1" />
<ellipse cx="396.30" cy="64.60" rx="2.3" ry="1.5" fill="#f3a24a"/>
<ellipse cx="396.30" cy="68.30" rx="1.8" ry="1.2" fill="#b3a0dc"/>
<line x1="394.80" y1="72.20" x2="397.80" y2="72.20" stroke="#94c452" stroke-width="1" />
<rect x="394.10" y="99.60" width="4.40" height="3.40" fill="#e06060" stroke="none" stroke-width="1" rx="0.6"/>
<line x1="416.20" y1="55.00" x2="416.20" y2="64.80" stroke="#333" stroke-width="1" />
<line x1="416.20" y1="98.30" x2="416.20" y2="113.80" stroke="#333" stroke-width="1" />
<line x1="414.00" y1="55.00" x2="418.40" y2="55.00" stroke="#333" stroke-width="1" />
<rect x="407.90" y="64.80" width="16.60" height="33.50" fill="none" stroke="#333" stroke-width="1.0" />
<line x1="407.90" y1="66.50" x2="424.50" y2="66.50" stroke="#111" stroke-width="1.6" />
<line x1="414.10" y1="53.52" x2="418.30" y2="56.88" stroke="#3aa8c8" stroke-width="1.1" />
<line x1="414.10" y1="56.88" x2="418.30" y2="53.52" stroke="#3aa8c8" stroke-width="1.1" />
<path d="M413.60,67.6 a2.6,2 0 0 0 5.2,0 z" fill="#f3a24a"/>
<rect x="414.00" y="99.60" width="4.40" height="3.40" fill="#e06060" stroke="none" stroke-width="1" rx="0.6"/>
<polygon points="414.70,114.70 417.70,114.70 416.20,112.50" fill="#6a5aa8" />
<line x1="435.85" y1="58.20" x2="435.85" y2="66.80" stroke="#333" stroke-width="1" />
<line x1="435.85" y1="87.60" x2="435.85" y2="100.90" stroke="#333" stroke-width="1" />
<line x1="433.65" y1="58.20" x2="438.05" y2="58.20" stroke="#333" stroke-width="1" />
<rect x="427.30" y="66.80" width="17.10" height="20.80" fill="none" stroke="#333" stroke-width="1.0" />
<line x1="427.30" y1="75.40" x2="444.40" y2="75.40" stroke="#111" stroke-width="1.6" />
<line x1="435.05" y1="58.20" x2="436.65" y2="58.20" stroke="#e04040" stroke-width="1" />
<line x1="434.65" y1="62.14" x2="437.05" y2="64.06" stroke="#b0b0b0" stroke-width="0.8" />
<line x1="434.65" y1="64.06" x2="437.05" y2="62.14" stroke="#b0b0b0" stroke-width="0.8" />
<ellipse cx="435.85" cy="68.40" rx="1.6" ry="1.0" fill="#b3a0dc"/>
<line x1="434.35" y1="69.80" x2="437.35" y2="69.80" stroke="#94c452" stroke-width="1" />
<ellipse cx="435.85" cy="72.40" rx="2.3" ry="1.8" fill="#f3a24a"/>
<line x1="434.05" y1="77.26" x2="437.65" y2="80.14" stroke="#3aa8c8" stroke-width="1.1" />
<line x1="434.05" y1="80.14" x2="437.65" y2="77.26" stroke="#3aa8c8" stroke-width="1.1" />
<rect x="433.65" y="85.20" width="4.40" height="3.40" fill="#d8607a" stroke="none" stroke-width="1" rx="0.6"/>
<rect x="433.85" y="99.90" width="4.00" height="2.00" fill="#94c452" stroke="none" stroke-width="1" />
<line x1="455.85" y1="59.10" x2="455.85" y2="65.60" stroke="#333" stroke-width="1" />
<rect x="447.30" y="65.60" width="17.10" height="25.70" fill="none" stroke="#333" stroke-width="1.0" />
<line x1="447.30" y1="77.50" x2="464.40" y2="77.50" stroke="#111" stroke-width="1.6" />
<rect x="453.75" y="57.70" width="4.20" height="3.20" fill="#f3a24a" stroke="none" stroke-width="1" rx="0.6"/>
<line x1="454.25" y1="61.52" x2="457.45" y2="64.08" stroke="#7a80c8" stroke-width="1.1" />
<line x1="454.25" y1="64.08" x2="457.45" y2="61.52" stroke="#7a80c8" stroke-width="1.1" />
<line x1="454.25" y1="69.00" x2="457.45" y2="69.00" stroke="#94c452" stroke-width="1" />
<line x1="454.85" y1="74.20" x2="456.85" y2="74.20" stroke="#e05050" stroke-width="1" />
<ellipse cx="455.85" cy="82.80" rx="2.1" ry="1.9" fill="#b3a0dc"/>
<rect x="453.65" y="87.30" width="4.40" height="3.40" fill="#e06060" stroke="none" stroke-width="1" rx="0.6"/>
<polygon points="454.05,96.30 457.65,96.30 455.85,93.70" fill="#2b8a5a" />
<line x1="476.40" y1="63.80" x2="476.40" y2="70.90" stroke="#333" stroke-width="1" />
<line x1="474.20" y1="63.80" x2="478.60" y2="63.80" stroke="#333" stroke-width="1" />
<rect x="468.20" y="70.90" width="16.40" height="16.20" fill="none" stroke="#333" stroke-width="1.0" />
<line x1="468.20" y1="75.40" x2="484.60" y2="75.40" stroke="#111" stroke-width="1.6" />
<ellipse cx="476.40" cy="65.80" rx="2.4" ry="1.9" fill="#f3a24a"/>
<line x1="475.10" y1="69.60" x2="477.70" y2="69.60" stroke="#94c452" stroke-width="1" />
<line x1="475.40" y1="72.50" x2="477.40" y2="72.50" stroke="#f07070" stroke-width="1" />
<ellipse cx="476.40" cy="75.00" rx="1.8" ry="1.1" fill="#b3a0dc"/>
<line x1="474.60" y1="82.26" x2="478.20" y2="85.14" stroke="#3aa8c8" stroke-width="1.1" />
<line x1="474.60" y1="85.14" x2="478.20" y2="82.26" stroke="#3aa8c8" stroke-width="1.1" />
<rect x="474.20" y="113.70" width="4.40" height="3.40" fill="#e06060" stroke="none" stroke-width="1" rx="0.6"/>
<line x1="496.20" y1="63.80" x2="496.20" y2="69.60" stroke="#333" stroke-width="1" />
<line x1="496.20" y1="85.40" x2="496.20" y2="122.60" stroke="#333" stroke-width="1" />
<line x1="494.00" y1="63.80" x2="498.40" y2="63.80" stroke="#333" stroke-width="1" />
<rect x="488.20" y="69.60" width="16.00" height="15.80" fill="none" stroke="#333" stroke-width="1.0" />
<line x1="488.20" y1="80.50" x2="504.20" y2="80.50" stroke="#111" stroke-width="1.6" />
<ellipse cx="496.20" cy="63.80" rx="2.2" ry="1.9" fill="#b3a0dc"/>
<line x1="495.40" y1="66.20" x2="497.00" y2="66.20" stroke="#3aa8c8" stroke-width="1" />
<line x1="495.50" y1="78.40" x2="496.90" y2="78.40" stroke="#a0b8e0" stroke-width="1" />
<path d="M493.90,86.0 a2.3,1.9 0 0 0 4.6,0 z" fill="#f3a24a"/>
<rect x="494.40" y="101.20" width="3.60" height="1.80" fill="#94c452" stroke="none" stroke-width="1" />
<line x1="516.50" y1="60.90" x2="516.50" y2="70.60" stroke="#333" stroke-width="1" />
<rect x="508.30" y="70.60" width="16.40" height="27.40" fill="none" stroke="#333" stroke-width="1.0" />
<line x1="508.30" y1="73.70" x2="524.70" y2="73.70" stroke="#111" stroke-width="1.6" />
<line x1="514.50" y1="55.00" x2="518.50" y2="58.20" stroke="#3aa8c8" stroke-width="1.1" />
<line x1="514.50" y1="58.20" x2="518.50" y2="55.00" stroke="#3aa8c8" stroke-width="1.1" />
<polygon points="515.20,62.10 517.80,62.10 516.50,59.70" fill="#ee2020" />
<line x1="516.50" y1="60.90" x2="516.50" y2="70.60" stroke="#333" stroke-width="1" />
<line x1="515.00" y1="66.80" x2="518.00" y2="66.80" stroke="#94c452" stroke-width="1" />
<line x1="515.00" y1="72.50" x2="518.00" y2="72.50" stroke="#94c452" stroke-width="1.2" />
<ellipse cx="516.50" cy="107.30" rx="2.5" ry="2.1" fill="#f3a24a"/>
<rect x="515.10" y="97.40" width="2.80" height="1.60" fill="#111" stroke="none" stroke-width="1" />
<line x1="574.60" y1="67.80" x2="574.60" y2="77.10" stroke="#333" stroke-width="1" />
<line x1="574.60" y1="96.60" x2="574.60" y2="114.70" stroke="#333" stroke-width="1" />
<line x1="572.40" y1="67.80" x2="576.80" y2="67.80" stroke="#333" stroke-width="1" />
<rect x="563.40" y="77.10" width="22.40" height="19.50" fill="none" stroke="#333" stroke-width="1.0" />
<line x1="563.40" y1="91.60" x2="585.80" y2="91.60" stroke="#111" stroke-width="1.6" />
<line x1="572.60" y1="56.20" x2="576.60" y2="59.40" stroke="#ee3030" stroke-width="1.3" />
<line x1="572.60" y1="59.40" x2="576.60" y2="56.20" stroke="#ee3030" stroke-width="1.3" />
<line x1="571.60" y1="65.40" x2="577.60" y2="70.20" stroke="#3aa8c8" stroke-width="1.3" />
<line x1="571.60" y1="70.20" x2="577.60" y2="65.40" stroke="#3aa8c8" stroke-width="1.3" />
<ellipse cx="574.60" cy="83.50" rx="3.4" ry="2.8" fill="#f3a24a"/>
<rect x="571.50" y="86.60" width="6.20" height="4.00" fill="#e06060" stroke="none" stroke-width="1" rx="0.6"/>
<ellipse cx="574.60" cy="94.60" rx="3.6" ry="1.8" fill="#94c452"/>
<line x1="576.00" y1="108.40" x2="578.40" y2="108.40" stroke="#f08080" stroke-width="1.1" />
<line x1="571.60" y1="112.30" x2="577.60" y2="117.10" stroke="#6a5aa8" stroke-width="1.2" />
<line x1="571.60" y1="117.10" x2="577.60" y2="112.30" stroke="#6a5aa8" stroke-width="1.2" />
<line x1="604.75" y1="56.40" x2="604.75" y2="66.40" stroke="#333" stroke-width="1" />
<line x1="604.75" y1="90.50" x2="604.75" y2="139.20" stroke="#333" stroke-width="1" />
<line x1="602.55" y1="56.40" x2="606.95" y2="56.40" stroke="#333" stroke-width="1" />
<rect x="593.30" y="66.40" width="22.90" height="24.10" fill="none" stroke="#333" stroke-width="1.0" />
<line x1="593.30" y1="79.90" x2="616.20" y2="79.90" stroke="#111" stroke-width="1.6" />
<circle cx="604.75" cy="48.80" r="3.40" fill="#f3a24a" stroke="#e07a3a" stroke-width="0.6" />
<circle cx="604.75" cy="48.80" r="1.00" fill="#e03030" stroke="none" stroke-width="0.5" />
<rect x="601.55" y="63.40" width="6.40" height="5.00" fill="#e06060" stroke="none" stroke-width="1" rx="0.6"/>
<polygon points="601.65,80.70 607.85,80.70 604.75,76.10" fill="#94c452" />
<line x1="601.75" y1="136.80" x2="607.75" y2="141.60" stroke="#6a5aa8" stroke-width="1.2" />
<line x1="601.75" y1="141.60" x2="607.75" y2="136.80" stroke="#6a5aa8" stroke-width="1.2" />
<line x1="634.40" y1="56.00" x2="634.40" y2="60.70" stroke="#333" stroke-width="1" />
<line x1="634.40" y1="87.80" x2="634.40" y2="110.20" stroke="#333" stroke-width="1" />
<line x1="632.20" y1="56.00" x2="636.60" y2="56.00" stroke="#333" stroke-width="1" />
<rect x="623.00" y="60.70" width="22.80" height="27.10" fill="none" stroke="#333" stroke-width="1.0" />
<line x1="623.00" y1="72.80" x2="645.80" y2="72.80" stroke="#111" stroke-width="1.6" />
<line x1="631.30" y1="53.52" x2="637.50" y2="58.48" stroke="#3aa8c8" stroke-width="1.3" />
<line x1="631.30" y1="58.48" x2="637.50" y2="53.52" stroke="#3aa8c8" stroke-width="1.3" />
<line x1="632.65" y1="62.80" x2="636.15" y2="62.80" stroke="#f08a8a" stroke-width="1.2" />
<polygon points="631.20,70.60 637.60,70.60 634.40,65.00" fill="#94c452" />
<rect x="631.20" y="77.80" width="6.40" height="5.20" fill="#e06060" stroke="none" stroke-width="1" rx="0.6"/>
<line x1="632.40" y1="86.60" x2="636.40" y2="86.60" stroke="#a8d070" stroke-width="1.2" />
<ellipse cx="634.40" cy="92.80" rx="3.2" ry="2.8" fill="#f3a24a"/>
<line x1="631.40" y1="107.80" x2="637.40" y2="112.60" stroke="#6a5aa8" stroke-width="1.2" />
<line x1="631.40" y1="112.60" x2="637.40" y2="107.80" stroke="#6a5aa8" stroke-width="1.2" />
<line x1="663.25" y1="86.30" x2="663.25" y2="91.00" stroke="#333" stroke-width="1" />
<line x1="663.25" y1="98.20" x2="663.25" y2="142.20" stroke="#333" stroke-width="1" />
<rect x="652.20" y="91.00" width="22.10" height="7.20" fill="none" stroke="#333" stroke-width="1.0" />
<line x1="652.20" y1="94.60" x2="674.30" y2="94.60" stroke="#111" stroke-width="1.6" />
<line x1="660.25" y1="83.90" x2="666.25" y2="88.70" stroke="#6a5aa8" stroke-width="1.2" />
<line x1="660.25" y1="88.70" x2="666.25" y2="83.90" stroke="#6a5aa8" stroke-width="1.2" />
<line x1="663.25" y1="86.30" x2="663.25" y2="91.00" stroke="#333" stroke-width="1" />
<ellipse cx="663.25" cy="92.40" rx="2.6" ry="1.5" fill="#f3a24a"/>
<ellipse cx="663.25" cy="96.30" rx="2.6" ry="1.5" fill="#94c452"/>
<rect x="660.25" y="140.10" width="6.00" height="4.60" fill="#d84848" stroke="none" stroke-width="1" rx="0.6"/>
<line x1="40.00" y1="225.60" x2="40.00" y2="323.70" stroke="#222" stroke-width="1.3" />
<line x1="36.00" y1="319.50" x2="180.50" y2="319.50" stroke="#222" stroke-width="1.4" />
<line x1="40.00" y1="319.50" x2="40.00" y2="323.70" stroke="#222" stroke-width="1.1" />
<text transform="translate(40.00 334.80) scale(1 1.05)" font-size="9.0" text-anchor="middle" font-weight="normal" fill="#000" >0</text>
<line x1="51.70" y1="319.50" x2="51.70" y2="323.70" stroke="#222" stroke-width="1.1" />
<text transform="translate(51.70 334.80) scale(1 1.05)" font-size="9.0" text-anchor="middle" font-weight="normal" fill="#000" >1</text>
<line x1="63.40" y1="319.50" x2="63.40" y2="323.70" stroke="#222" stroke-width="1.1" />
<text transform="translate(63.40 334.80) scale(1 1.05)" font-size="9.0" text-anchor="middle" font-weight="normal" fill="#000" >2</text>
<line x1="75.10" y1="319.50" x2="75.10" y2="323.70" stroke="#222" stroke-width="1.1" />
<text transform="translate(75.10 334.80) scale(1 1.05)" font-size="9.0" text-anchor="middle" font-weight="normal" fill="#000" >3</text>
<line x1="86.80" y1="319.50" x2="86.80" y2="323.70" stroke="#222" stroke-width="1.1" />
<text transform="translate(86.80 334.80) scale(1 1.05)" font-size="9.0" text-anchor="middle" font-weight="normal" fill="#000" >4</text>
<line x1="98.50" y1="319.50" x2="98.50" y2="323.70" stroke="#222" stroke-width="1.1" />
<text transform="translate(98.50 334.80) scale(1 1.05)" font-size="9.0" text-anchor="middle" font-weight="normal" fill="#000" >5</text>
<line x1="110.20" y1="319.50" x2="110.20" y2="323.70" stroke="#222" stroke-width="1.1" />
<text transform="translate(110.20 334.80) scale(1 1.05)" font-size="9.0" text-anchor="middle" font-weight="normal" fill="#000" >6</text>
<line x1="121.90" y1="319.50" x2="121.90" y2="323.70" stroke="#222" stroke-width="1.1" />
<text transform="translate(121.90 334.80) scale(1 1.05)" font-size="9.0" text-anchor="middle" font-weight="normal" fill="#000" >7</text>
<line x1="133.60" y1="319.50" x2="133.60" y2="323.70" stroke="#222" stroke-width="1.1" />
<text transform="translate(133.60 334.80) scale(1 1.05)" font-size="9.0" text-anchor="middle" font-weight="normal" fill="#000" >8</text>
<line x1="145.30" y1="319.50" x2="145.30" y2="323.70" stroke="#222" stroke-width="1.1" />
<text transform="translate(145.30 334.80) scale(1 1.05)" font-size="9.0" text-anchor="middle" font-weight="normal" fill="#000" >9</text>
<line x1="157.00" y1="319.50" x2="157.00" y2="323.70" stroke="#222" stroke-width="1.1" />
<text transform="translate(157.00 334.80) scale(1 1.05)" font-size="9.0" text-anchor="middle" font-weight="normal" fill="#000" >10</text>
<line x1="168.70" y1="319.50" x2="168.70" y2="323.70" stroke="#222" stroke-width="1.1" />
<text transform="translate(168.70 334.80) scale(1 1.05)" font-size="9.0" text-anchor="middle" font-weight="normal" fill="#000" >11</text>
<line x1="180.40" y1="319.50" x2="180.40" y2="323.70" stroke="#222" stroke-width="1.1" />
<text transform="translate(180.40 334.80) scale(1 1.05)" font-size="9.0" text-anchor="middle" font-weight="normal" fill="#000" >12</text>
<line x1="36.00" y1="319.50" x2="40.00" y2="319.50" stroke="#222" stroke-width="1.0" />
<line x1="37.80" y1="315.23" x2="40.00" y2="315.23" stroke="#222" stroke-width="1.0" />
<line x1="37.80" y1="310.95" x2="40.00" y2="310.95" stroke="#222" stroke-width="1.0" />
<line x1="37.80" y1="306.68" x2="40.00" y2="306.68" stroke="#222" stroke-width="1.0" />
<line x1="37.80" y1="302.40" x2="40.00" y2="302.40" stroke="#222" stroke-width="1.0" />
<line x1="37.80" y1="298.12" x2="40.00" y2="298.12" stroke="#222" stroke-width="1.0" />
<line x1="37.80" y1="293.85" x2="40.00" y2="293.85" stroke="#222" stroke-width="1.0" />
<line x1="37.80" y1="289.57" x2="40.00" y2="289.57" stroke="#222" stroke-width="1.0" />
<line x1="37.80" y1="285.30" x2="40.00" y2="285.30" stroke="#222" stroke-width="1.0" />
<line x1="37.80" y1="281.02" x2="40.00" y2="281.02" stroke="#222" stroke-width="1.0" />
<line x1="36.00" y1="276.75" x2="40.00" y2="276.75" stroke="#222" stroke-width="1.0" />
<line x1="37.80" y1="272.48" x2="40.00" y2="272.48" stroke="#222" stroke-width="1.0" />
<line x1="37.80" y1="268.20" x2="40.00" y2="268.20" stroke="#222" stroke-width="1.0" />
<line x1="37.80" y1="263.93" x2="40.00" y2="263.93" stroke="#222" stroke-width="1.0" />
<line x1="37.80" y1="259.65" x2="40.00" y2="259.65" stroke="#222" stroke-width="1.0" />
<line x1="37.80" y1="255.38" x2="40.00" y2="255.38" stroke="#222" stroke-width="1.0" />
<line x1="37.80" y1="251.10" x2="40.00" y2="251.10" stroke="#222" stroke-width="1.0" />
<line x1="37.80" y1="246.82" x2="40.00" y2="246.82" stroke="#222" stroke-width="1.0" />
<line x1="37.80" y1="242.55" x2="40.00" y2="242.55" stroke="#222" stroke-width="1.0" />
<line x1="37.80" y1="238.28" x2="40.00" y2="238.28" stroke="#222" stroke-width="1.0" />
<line x1="36.00" y1="234.00" x2="40.00" y2="234.00" stroke="#222" stroke-width="1.0" />
<line x1="37.80" y1="229.73" x2="40.00" y2="229.73" stroke="#222" stroke-width="1.0" />
<line x1="37.80" y1="225.45" x2="40.00" y2="225.45" stroke="#222" stroke-width="1.0" />
<text transform="translate(32.30 237.70) scale(1 1.05)" font-size="9.4" text-anchor="end" font-weight="normal" fill="#000" >100</text>
<text transform="translate(32.30 280.45) scale(1 1.05)" font-size="9.4" text-anchor="end" font-weight="normal" fill="#000" >50</text>
<text transform="translate(32.30 323.20) scale(1 1.05)" font-size="9.4" text-anchor="end" font-weight="normal" fill="#000" >0</text>
<text transform="translate(110.60 202.80) scale(1 1.05)" font-size="9.75" text-anchor="middle" font-weight="normal" fill="#000" >PFS according to</text>
<text transform="translate(110.50 214.30) scale(1 1.05)" font-size="9.87" text-anchor="middle" font-weight="normal" fill="#000" >response (iRECIST)</text>
<text transform="translate(110.40 348.90) scale(1 1.05)" font-size="9.6" text-anchor="middle" font-weight="normal" fill="#000" >Months</text>
<text transform="translate(9.80 275.00) rotate(-90)" font-size="9.63" text-anchor="middle" font-weight="normal" fill="#000" >Percent survival</text>
<polyline points="40.00,234.00 45.70,234.00 45.70,241.90 46.60,241.90 46.60,249.70 58.80,249.70 58.80,257.50 59.80,257.50 59.80,265.30 68.20,265.30 68.20,273.00 75.50,273.00 75.50,280.80 83.30,280.80 83.30,288.50 84.90,288.50 84.90,296.30 88.30,296.30 88.30,304.10 91.90,304.10 91.90,311.90 102.10,311.90 102.10,319.50" fill="none" stroke="#f42020" stroke-width="1.4" stroke-linejoin="miter" />
<polyline points="40.00,234.00 140.40,234.00 140.40,244.00 180.40,244.00" fill="none" stroke="#1c1cbc" stroke-width="1.4" stroke-linejoin="miter" />
<line x1="88.60" y1="234.00" x2="88.60" y2="232.20" stroke="#1c1cbc" stroke-width="0.8" />
<line x1="90.50" y1="234.00" x2="90.50" y2="232.20" stroke="#1c1cbc" stroke-width="0.8" />
<line x1="142.20" y1="244.00" x2="142.20" y2="242.30" stroke="#1c1cbc" stroke-width="0.8" />
<line x1="169.30" y1="244.00" x2="169.30" y2="242.30" stroke="#1c1cbc" stroke-width="0.8" />
<line x1="182.80" y1="227.20" x2="192.80" y2="227.20" stroke="#1c1cbc" stroke-width="1.3" />
<line x1="187.80" y1="227.20" x2="187.80" y2="225.80" stroke="#223" stroke-width="0.9" />
<text transform="translate(197.40 230.00) scale(1 1.05)" font-size="8.4" text-anchor="start" font-weight="normal" fill="#000" >R</text>
<line x1="182.80" y1="239.60" x2="192.80" y2="239.60" stroke="#f42020" stroke-width="1.3" />
<text transform="translate(197.40 242.60) scale(1 1.05)" font-size="8.4" text-anchor="start" font-weight="normal" fill="#000" >NR</text>
<line x1="263.00" y1="225.60" x2="263.00" y2="323.50" stroke="#333" stroke-width="1.3" />
<line x1="259.00" y1="319.50" x2="404.90" y2="319.50" stroke="#333" stroke-width="1.4" />
<line x1="263.00" y1="319.50" x2="263.00" y2="323.50" stroke="#333" stroke-width="1.1" />
<text transform="translate(263.00 334.60) scale(1 1.05)" font-size="9.2" text-anchor="middle" font-weight="normal" fill="#000" >0</text>
<line x1="280.55" y1="319.50" x2="280.55" y2="323.50" stroke="#333" stroke-width="1.1" />
<text transform="translate(280.55 334.60) scale(1 1.05)" font-size="9.2" text-anchor="middle" font-weight="normal" fill="#000" >3</text>
<line x1="298.10" y1="319.50" x2="298.10" y2="323.50" stroke="#333" stroke-width="1.1" />
<text transform="translate(298.10 334.60) scale(1 1.05)" font-size="9.2" text-anchor="middle" font-weight="normal" fill="#000" >6</text>
<line x1="315.65" y1="319.50" x2="315.65" y2="323.50" stroke="#333" stroke-width="1.1" />
<text transform="translate(315.65 334.60) scale(1 1.05)" font-size="9.2" text-anchor="middle" font-weight="normal" fill="#000" >9</text>
<line x1="333.20" y1="319.50" x2="333.20" y2="323.50" stroke="#333" stroke-width="1.1" />
<text transform="translate(333.20 334.60) scale(1 1.05)" font-size="9.2" text-anchor="middle" font-weight="normal" fill="#000" >12</text>
<line x1="350.75" y1="319.50" x2="350.75" y2="323.50" stroke="#333" stroke-width="1.1" />
<text transform="translate(350.75 334.60) scale(1 1.05)" font-size="9.2" text-anchor="middle" font-weight="normal" fill="#000" >15</text>
<line x1="368.30" y1="319.50" x2="368.30" y2="323.50" stroke="#333" stroke-width="1.1" />
<text transform="translate(368.30 334.60) scale(1 1.05)" font-size="9.2" text-anchor="middle" font-weight="normal" fill="#000" >18</text>
<line x1="385.85" y1="319.50" x2="385.85" y2="323.50" stroke="#333" stroke-width="1.1" />
<text transform="translate(385.85 334.60) scale(1 1.05)" font-size="9.2" text-anchor="middle" font-weight="normal" fill="#000" >21</text>
<line x1="403.40" y1="319.50" x2="403.40" y2="323.50" stroke="#333" stroke-width="1.1" />
<text transform="translate(403.40 334.60) scale(1 1.05)" font-size="9.2" text-anchor="middle" font-weight="normal" fill="#000" >24</text>
<line x1="259.00" y1="319.50" x2="263.00" y2="319.50" stroke="#333" stroke-width="1.0" />
<line x1="261.00" y1="315.24" x2="263.00" y2="315.24" stroke="#333" stroke-width="1.0" />
<line x1="261.00" y1="310.98" x2="263.00" y2="310.98" stroke="#333" stroke-width="1.0" />
<line x1="261.00" y1="306.72" x2="263.00" y2="306.72" stroke="#333" stroke-width="1.0" />
<line x1="261.00" y1="302.46" x2="263.00" y2="302.46" stroke="#333" stroke-width="1.0" />
<line x1="261.00" y1="298.20" x2="263.00" y2="298.20" stroke="#333" stroke-width="1.0" />
<line x1="261.00" y1="293.94" x2="263.00" y2="293.94" stroke="#333" stroke-width="1.0" />
<line x1="261.00" y1="289.68" x2="263.00" y2="289.68" stroke="#333" stroke-width="1.0" />
<line x1="261.00" y1="285.42" x2="263.00" y2="285.42" stroke="#333" stroke-width="1.0" />
<line x1="261.00" y1="281.16" x2="263.00" y2="281.16" stroke="#333" stroke-width="1.0" />
<line x1="259.00" y1="276.90" x2="263.00" y2="276.90" stroke="#333" stroke-width="1.0" />
<line x1="261.00" y1="272.64" x2="263.00" y2="272.64" stroke="#333" stroke-width="1.0" />
<line x1="261.00" y1="268.38" x2="263.00" y2="268.38" stroke="#333" stroke-width="1.0" />
<line x1="261.00" y1="264.12" x2="263.00" y2="264.12" stroke="#333" stroke-width="1.0" />
<line x1="261.00" y1="259.86" x2="263.00" y2="259.86" stroke="#333" stroke-width="1.0" />
<line x1="261.00" y1="255.60" x2="263.00" y2="255.60" stroke="#333" stroke-width="1.0" />
<line x1="261.00" y1="251.34" x2="263.00" y2="251.34" stroke="#333" stroke-width="1.0" />
<line x1="261.00" y1="247.08" x2="263.00" y2="247.08" stroke="#333" stroke-width="1.0" />
<line x1="261.00" y1="242.82" x2="263.00" y2="242.82" stroke="#333" stroke-width="1.0" />
<line x1="261.00" y1="238.56" x2="263.00" y2="238.56" stroke="#333" stroke-width="1.0" />
<line x1="259.00" y1="234.30" x2="263.00" y2="234.30" stroke="#333" stroke-width="1.0" />
<line x1="261.00" y1="230.04" x2="263.00" y2="230.04" stroke="#333" stroke-width="1.0" />
<line x1="261.00" y1="225.78" x2="263.00" y2="225.78" stroke="#333" stroke-width="1.0" />
<text transform="translate(255.00 237.70) scale(1 1.05)" font-size="9.4" text-anchor="end" font-weight="normal" fill="#000" >100</text>
<text transform="translate(255.00 280.30) scale(1 1.05)" font-size="9.4" text-anchor="end" font-weight="normal" fill="#000" >50</text>
<text transform="translate(255.00 322.90) scale(1 1.05)" font-size="9.4" text-anchor="end" font-weight="normal" fill="#000" >0</text>
<text transform="translate(333.30 202.90) scale(1 1.05)" font-size="9.6" text-anchor="middle" font-weight="normal" fill="#000" >PFS according to % of</text>
<text transform="translate(333.50 214.40) scale(1 1.05)" font-size="9.65" text-anchor="middle" font-weight="normal" fill="#000" >FKBP51sTregs at baseline</text>
<text transform="translate(333.60 348.60) scale(1 1.05)" font-size="9.7" text-anchor="middle" font-weight="normal" fill="#000" >Time</text>
<text transform="translate(232.00 275.85) rotate(-90)" font-size="9.8" text-anchor="middle" font-weight="normal" fill="#000" >Progression free survival</text>
<polyline points="263.00,234.30 265.50,234.30 265.50,240.40 266.20,240.40 266.20,248.60 281.10,248.60 281.10,255.40 314.80,255.40 314.80,263.30 404.50,263.30" fill="none" stroke="#1c1cbc" stroke-width="1.4" stroke-linejoin="miter" />
<polyline points="263.00,234.30 272.20,234.30 272.20,243.40 273.40,243.40 273.40,251.60 277.10,251.60 277.10,259.80 282.90,259.80 282.90,267.80 286.60,267.80 286.60,275.70 287.80,275.70 287.80,287.60 289.00,287.60 289.00,298.30 294.60,298.30 294.60,309.20 374.80,309.20" fill="none" stroke="#f42020" stroke-width="1.4" stroke-linejoin="miter" />
<line x1="374.80" y1="309.20" x2="374.80" y2="307.50" stroke="#f42020" stroke-width="0.8" />
<line x1="289.00" y1="255.40" x2="289.00" y2="253.60" stroke="#1c1cbc" stroke-width="0.8" />
<line x1="329.00" y1="263.30" x2="329.00" y2="261.50" stroke="#1c1cbc" stroke-width="0.8" />
<line x1="365.50" y1="263.30" x2="365.50" y2="261.50" stroke="#1c1cbc" stroke-width="0.8" />
<line x1="385.60" y1="263.30" x2="385.60" y2="261.50" stroke="#1c1cbc" stroke-width="0.8" />
<line x1="363.00" y1="230.40" x2="372.80" y2="230.40" stroke="#f42020" stroke-width="1.2" />
<line x1="367.90" y1="230.40" x2="367.90" y2="229.00" stroke="#f42020" stroke-width="0.8" />
<text transform="translate(377.40 234.00) scale(1 1.05)" font-size="8.4" text-anchor="start" font-weight="normal" fill="#000" >&lt; 1%</text>
<line x1="363.00" y1="243.60" x2="372.80" y2="243.60" stroke="#1c1cbc" stroke-width="1.2" />
<line x1="367.90" y1="243.60" x2="367.90" y2="242.20" stroke="#1c1cbc" stroke-width="0.8" />
<text transform="translate(377.40 247.00) scale(1 1.05)" font-size="8.4" text-anchor="start" font-weight="normal" fill="#000" >¤1%</text>
<text transform="translate(328.60 283.60) scale(1 1.05)" font-size="8.33" text-anchor="start" font-weight="normal" fill="#000" >HR: 0,30 (95% CI; 0,09-0,96)</text>
<text transform="translate(328.60 293.60) scale(1 1.05)" font-size="8.32" text-anchor="start" font-weight="normal" fill="#000" >Log-rank (Mantel-Cox) test: <tspan font-style="italic">p</tspan> = 0,031</text>
<line x1="523.40" y1="213.80" x2="523.40" y2="319.60" stroke="#111" stroke-width="1.1" />
<line x1="523.40" y1="319.10" x2="629.20" y2="319.10" stroke="#111" stroke-width="1.1" />
<line x1="523.40" y1="319.10" x2="523.40" y2="322.20" stroke="#111" stroke-width="1" />
<text transform="translate(523.90 334.80) scale(1 1.05)" font-size="9.5" text-anchor="middle" font-weight="normal" fill="#000" >0</text>
<line x1="520.00" y1="319.10" x2="523.40" y2="319.10" stroke="#111" stroke-width="1" />
<text transform="translate(515.30 322.40) scale(1 1.05)" font-size="9.5" text-anchor="end" font-weight="normal" fill="#000" >0</text>
<line x1="544.50" y1="319.10" x2="544.50" y2="322.20" stroke="#111" stroke-width="1" />
<text transform="translate(545.00 334.80) scale(1 1.05)" font-size="9.5" text-anchor="middle" font-weight="normal" fill="#000" >20</text>
<line x1="520.00" y1="298.20" x2="523.40" y2="298.20" stroke="#111" stroke-width="1" />
<text transform="translate(515.30 301.50) scale(1 1.05)" font-size="9.5" text-anchor="end" font-weight="normal" fill="#000" >20</text>
<line x1="565.60" y1="319.10" x2="565.60" y2="322.20" stroke="#111" stroke-width="1" />
<text transform="translate(566.10 334.80) scale(1 1.05)" font-size="9.5" text-anchor="middle" font-weight="normal" fill="#000" >40</text>
<line x1="520.00" y1="277.30" x2="523.40" y2="277.30" stroke="#111" stroke-width="1" />
<text transform="translate(515.30 280.60) scale(1 1.05)" font-size="9.5" text-anchor="end" font-weight="normal" fill="#000" >40</text>
<line x1="586.70" y1="319.10" x2="586.70" y2="322.20" stroke="#111" stroke-width="1" />
<text transform="translate(587.20 334.80) scale(1 1.05)" font-size="9.5" text-anchor="middle" font-weight="normal" fill="#000" >60</text>
<line x1="520.00" y1="256.40" x2="523.40" y2="256.40" stroke="#111" stroke-width="1" />
<text transform="translate(515.30 259.70) scale(1 1.05)" font-size="9.5" text-anchor="end" font-weight="normal" fill="#000" >60</text>
<line x1="607.80" y1="319.10" x2="607.80" y2="322.20" stroke="#111" stroke-width="1" />
<text transform="translate(608.30 334.80) scale(1 1.05)" font-size="9.5" text-anchor="middle" font-weight="normal" fill="#000" >80</text>
<line x1="520.00" y1="235.50" x2="523.40" y2="235.50" stroke="#111" stroke-width="1" />
<text transform="translate(515.30 238.80) scale(1 1.05)" font-size="9.5" text-anchor="end" font-weight="normal" fill="#000" >80</text>
<line x1="628.90" y1="319.10" x2="628.90" y2="322.20" stroke="#111" stroke-width="1" />
<text transform="translate(629.40 334.80) scale(1 1.05)" font-size="9.5" text-anchor="middle" font-weight="normal" fill="#000" >100</text>
<line x1="520.00" y1="214.60" x2="523.40" y2="214.60" stroke="#111" stroke-width="1" />
<text transform="translate(515.30 217.90) scale(1 1.05)" font-size="9.5" text-anchor="end" font-weight="normal" fill="#000" >100</text>
<text transform="translate(577.40 201.00) scale(1 1.05)" font-size="9.57" text-anchor="middle" font-weight="normal" fill="#000" >ROC curve: FKBP51sTregs</text>
<text transform="translate(579.10 348.60) scale(1 1.05)" font-size="9.85" text-anchor="middle" font-weight="normal" fill="#000" >100% - Specificity%</text>
<text transform="translate(492.80 267.10) rotate(-90)" font-size="9.77" text-anchor="middle" font-weight="normal" fill="#000" >Sensitivity%</text>
<line x1="523.40" y1="319.10" x2="628.90" y2="214.60" stroke="#ff4444" stroke-width="1.1" stroke-dasharray="1.2 1.2"/>
<polyline points="523.40,319.10 523.40,281.06 533.00,281.06 533.00,271.55 542.60,271.55 542.60,243.13 552.20,243.13 552.20,233.62 571.40,233.62 571.40,224.11 600.10,224.11 600.10,214.60 628.90,214.60" fill="none" stroke="#f02424" stroke-width="1.45" stroke-linejoin="miter" />
<text transform="translate(602.40 285.10) scale(1 1.05)" font-size="8.3" text-anchor="middle" font-weight="normal" fill="#000" >AUC: 0,81</text>
<text transform="translate(602.70 295.10) scale(1 1.05)" font-size="8.3" text-anchor="middle" font-weight="normal" fill="#000" >(95% IC: 0,62-0,99)</text>
<text transform="translate(603.30 305.00) scale(1 1.05)" font-size="8.3" text-anchor="middle" font-weight="normal" fill="#000" ><tspan font-style="italic">p</tspan> = 0,014</text>
</svg>
</body></html>
